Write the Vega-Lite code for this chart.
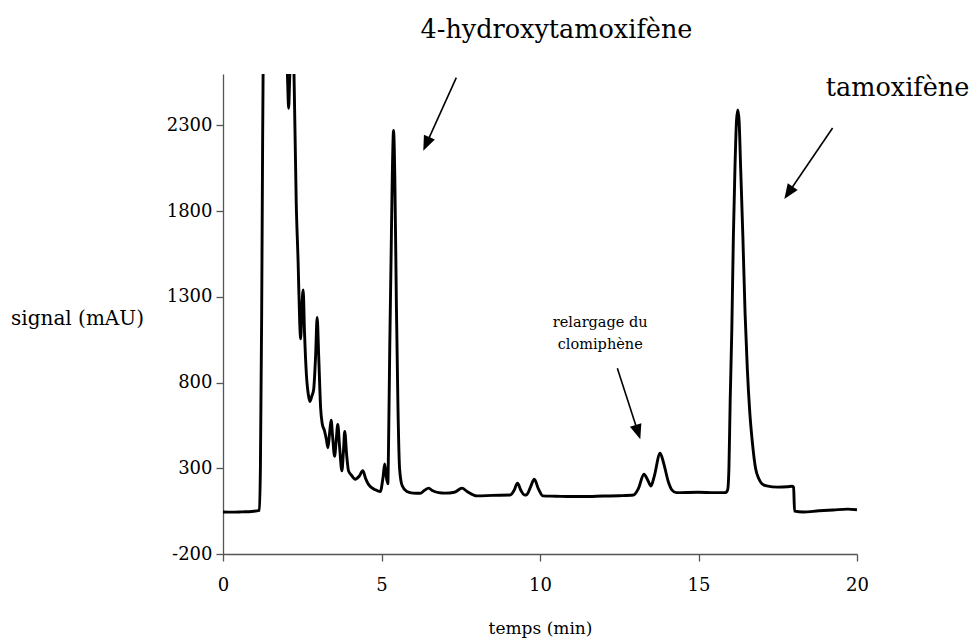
{
  "$schema": "https://vega.github.io/schema/vega-lite/v6.json",
  "width": 634,
  "height": 480,
  "autosize": {"type": "none"},
  "padding": {"left": 223, "top": 74, "right": 116, "bottom": 89},
  "background": "white",
  "config": {
    "view": {"stroke": null},
    "font": "DejaVu Serif",
    "axis": {"grid": false, "domainColor": "#555", "tickColor": "#555", "labelColor": "black", "titleColor": "black", "labelFont": "DejaVu Serif", "titleFont": "DejaVu Serif", "titleFontWeight": "normal", "tickSize": 7, "domainWidth": 1.3, "tickWidth": 1.3}
  },
  "datasets": {
    "chrom": [
      {"t": 0, "v": 45}, {"t": 0.3, "v": 44}, {"t": 0.6, "v": 46}, {"t": 0.9, "v": 48}, {"t": 1.15, "v": 55},
      {"t": 1.18, "v": 300}, {"t": 1.22, "v": 1200}, {"t": 1.25, "v": 2200}, {"t": 1.28, "v": 3000}, {"t": 1.35, "v": 4000},
      {"t": 1.9, "v": 4000}, {"t": 2.0, "v": 2800}, {"t": 2.04, "v": 2550}, {"t": 2.07, "v": 2400}, {"t": 2.1, "v": 2550},
      {"t": 2.14, "v": 2800}, {"t": 2.2, "v": 3200}, {"t": 2.24, "v": 2600}, {"t": 2.31, "v": 1850}, {"t": 2.37, "v": 1500},
      {"t": 2.42, "v": 1150}, {"t": 2.45, "v": 1055}, {"t": 2.49, "v": 1250}, {"t": 2.53, "v": 1340}, {"t": 2.57, "v": 1100},
      {"t": 2.63, "v": 850}, {"t": 2.7, "v": 720}, {"t": 2.74, "v": 690}, {"t": 2.8, "v": 720}, {"t": 2.86, "v": 760},
      {"t": 2.92, "v": 950}, {"t": 2.97, "v": 1180}, {"t": 3.02, "v": 950}, {"t": 3.08, "v": 650}, {"t": 3.13, "v": 560},
      {"t": 3.2, "v": 520}, {"t": 3.26, "v": 470}, {"t": 3.31, "v": 420}, {"t": 3.36, "v": 500}, {"t": 3.41, "v": 580},
      {"t": 3.46, "v": 480}, {"t": 3.52, "v": 370}, {"t": 3.57, "v": 460}, {"t": 3.62, "v": 555}, {"t": 3.68, "v": 420},
      {"t": 3.75, "v": 285}, {"t": 3.8, "v": 400}, {"t": 3.84, "v": 515}, {"t": 3.9, "v": 380}, {"t": 3.96, "v": 285},
      {"t": 4.05, "v": 260}, {"t": 4.17, "v": 236}, {"t": 4.3, "v": 255}, {"t": 4.41, "v": 286}, {"t": 4.5, "v": 240},
      {"t": 4.6, "v": 203}, {"t": 4.8, "v": 175}, {"t": 4.96, "v": 164}, {"t": 5.05, "v": 250}, {"t": 5.1, "v": 325},
      {"t": 5.15, "v": 250}, {"t": 5.2, "v": 210}, {"t": 5.22, "v": 400}, {"t": 5.26, "v": 1000}, {"t": 5.3, "v": 1500},
      {"t": 5.34, "v": 2000}, {"t": 5.38, "v": 2270}, {"t": 5.42, "v": 2000}, {"t": 5.47, "v": 1250}, {"t": 5.52, "v": 650},
      {"t": 5.57, "v": 300}, {"t": 5.65, "v": 200}, {"t": 5.8, "v": 165}, {"t": 6.0, "v": 155}, {"t": 6.22, "v": 154},
      {"t": 6.35, "v": 170}, {"t": 6.49, "v": 184}, {"t": 6.6, "v": 170}, {"t": 6.8, "v": 158}, {"t": 7.0, "v": 155},
      {"t": 7.3, "v": 160}, {"t": 7.54, "v": 184}, {"t": 7.7, "v": 165}, {"t": 8.01, "v": 139}, {"t": 8.5, "v": 142},
      {"t": 9.06, "v": 144}, {"t": 9.18, "v": 170}, {"t": 9.29, "v": 213}, {"t": 9.4, "v": 170}, {"t": 9.5, "v": 145},
      {"t": 9.57, "v": 144}, {"t": 9.7, "v": 190}, {"t": 9.82, "v": 236}, {"t": 9.95, "v": 180}, {"t": 10.09, "v": 139},
      {"t": 10.5, "v": 137}, {"t": 11.0, "v": 135}, {"t": 11.37, "v": 135}, {"t": 12.0, "v": 138}, {"t": 12.5, "v": 140},
      {"t": 12.95, "v": 144}, {"t": 13.1, "v": 180}, {"t": 13.28, "v": 265}, {"t": 13.4, "v": 230}, {"t": 13.5, "v": 197},
      {"t": 13.6, "v": 250}, {"t": 13.79, "v": 388}, {"t": 13.9, "v": 330}, {"t": 14.05, "v": 220}, {"t": 14.16, "v": 174},
      {"t": 14.3, "v": 158}, {"t": 15.0, "v": 160}, {"t": 15.5, "v": 158}, {"t": 15.85, "v": 158}, {"t": 15.92, "v": 175},
      {"t": 15.96, "v": 300}, {"t": 16.0, "v": 700}, {"t": 16.05, "v": 1100}, {"t": 16.1, "v": 1650}, {"t": 16.15, "v": 2050},
      {"t": 16.2, "v": 2330}, {"t": 16.24, "v": 2390}, {"t": 16.28, "v": 2330}, {"t": 16.33, "v": 2050}, {"t": 16.4, "v": 1650},
      {"t": 16.47, "v": 1200}, {"t": 16.54, "v": 880}, {"t": 16.62, "v": 620}, {"t": 16.7, "v": 450}, {"t": 16.8, "v": 300},
      {"t": 16.9, "v": 240}, {"t": 17.0, "v": 210}, {"t": 17.15, "v": 197}, {"t": 17.5, "v": 190}, {"t": 17.8, "v": 192},
      {"t": 17.95, "v": 195}, {"t": 18.0, "v": 190}, {"t": 18.03, "v": 50}, {"t": 18.3, "v": 45}, {"t": 18.8, "v": 52},
      {"t": 19.25, "v": 57}, {"t": 19.7, "v": 62}, {"t": 20.0, "v": 58}
    ],
    "arrows": [
      {"name": "oh", "t1": 7.36, "v1": 2579, "t2": 6.415, "v2": 2192},
      {"name": "tam", "t1": 19.23, "v1": 2285, "t2": 17.84, "v2": 1907},
      {"name": "clo", "t1": 12.44, "v1": 884, "t2": 13.09, "v2": 511}
    ],
    "labels": [
      {"name": "big", "t": 10.52, "v": 2859, "label": "4-hydroxytamoxifène"},
      {"name": "big", "t": 21.28, "v": 2520, "label": "tamoxifène"},
      {"name": "small", "t": 11.9, "v": 1150, "label": "relargage du\nclomiphène"}
    ]
  },
  "layer": [
    {
      "data": {"name": "chrom"},
      "mark": {"type": "line", "color": "black", "strokeWidth": 2.9, "clip": true, "strokeJoin": "round", "interpolate": "monotone"},
      "encoding": {
        "x": {"field": "t", "type": "quantitative", "scale": {"domain": [0, 20], "nice": false, "zero": false},
          "axis": {"values": [0, 5, 10, 15, 20], "labelFlush": false, "title": "temps (min)", "labelFontSize": 18, "labelPadding": 15, "titleFontSize": 17, "titleX": 317, "titleY": 74, "titleBaseline": "middle", "titleAlign": "center"}},
        "y": {"field": "v", "type": "quantitative", "scale": {"domain": [-200, 2600], "nice": false, "zero": false},
          "axis": {"values": [-200, 300, 800, 1300, 1800, 2300], "labelFlush": false, "labelExpr": "datum.value + ''", "title": "signal (mAU)", "labelFontSize": 18, "labelPadding": 4, "titleFontSize": 20, "titleAngle": 0, "titleX": -146, "titleY": 244, "titleAlign": "center", "titleBaseline": "middle"}}
      }
    },
    {
      "data": {"name": "arrows"},
      "mark": {"type": "rule", "color": "black", "strokeWidth": 1.6},
      "encoding": {
        "x": {"field": "t1", "type": "quantitative"},
        "y": {"field": "v1", "type": "quantitative"},
        "x2": {"field": "t2"},
        "y2": {"field": "v2"}
      }
    },
    {
      "data": {"name": "arrows"},
      "transform": [{"filter": "datum.name === 'oh'"}],
      "mark": {"type": "point", "shape": "M0,-1L0.8,1L-0.8,1Z", "filled": true, "color": "black", "opacity": 1, "size": 225, "angle": 204},
      "encoding": {"x": {"field": "t2", "type": "quantitative"}, "y": {"field": "v2", "type": "quantitative"}}
    },
    {
      "data": {"name": "arrows"},
      "transform": [{"filter": "datum.name === 'tam'"}],
      "mark": {"type": "point", "shape": "M0,-1L0.8,1L-0.8,1Z", "filled": true, "color": "black", "opacity": 1, "size": 225, "angle": 214},
      "encoding": {"x": {"field": "t2", "type": "quantitative"}, "y": {"field": "v2", "type": "quantitative"}}
    },
    {
      "data": {"name": "arrows"},
      "transform": [{"filter": "datum.name === 'clo'"}],
      "mark": {"type": "point", "shape": "M0,-1L0.8,1L-0.8,1Z", "filled": true, "color": "black", "opacity": 1, "size": 225, "angle": 162},
      "encoding": {"x": {"field": "t2", "type": "quantitative"}, "y": {"field": "v2", "type": "quantitative"}}
    },
    {
      "data": {"name": "labels"},
      "transform": [{"filter": "datum.name === 'big'"}],
      "mark": {"type": "text", "font": "DejaVu Serif", "fontSize": 25.5, "color": "black", "align": "center", "baseline": "middle"},
      "encoding": {"x": {"field": "t", "type": "quantitative"}, "y": {"field": "v", "type": "quantitative"}, "text": {"field": "label"}}
    },
    {
      "data": {"name": "labels"},
      "transform": [{"filter": "datum.name === 'small'"}],
      "mark": {"type": "text", "font": "DejaVu Serif", "fontSize": 14.5, "color": "black", "align": "center", "baseline": "middle", "lineBreak": "\n", "lineHeight": 22},
      "encoding": {"x": {"field": "t", "type": "quantitative"}, "y": {"field": "v", "type": "quantitative"}, "text": {"field": "label"}}
    }
  ]
}
